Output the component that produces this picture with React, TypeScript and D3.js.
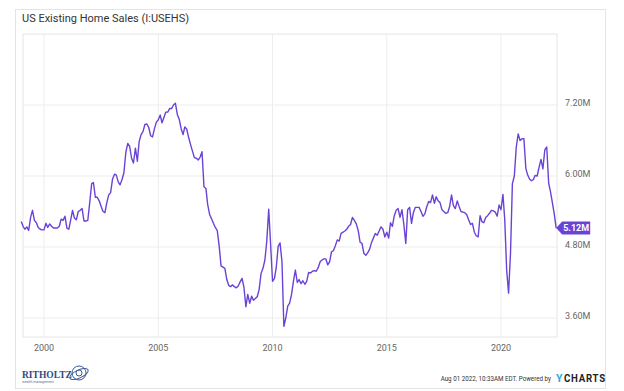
import React from "react";
import * as d3 from "d3";

const W = 624;
const H = 391;

const startYear = 1999;
// Monthly US existing home sales (millions, SAAR), Jan 1999 .. Jun 2022
const sales1999 = [5.23, 5.15, 5.10, 5.14, 5.08, 5.30, 5.42, 5.25, 5.21, 5.13, 5.10, 5.09];
const sales2000 = [5.09, 5.20, 5.13, 5.19, 5.15, 5.12, 5.12, 5.12, 5.15, 5.27, 5.25, 5.32];
const sales2001 = [5.12, 5.10, 5.25, 5.42, 5.29, 5.26, 5.40, 5.42, 5.45, 5.24, 5.24, 5.25];
const sales2002 = [5.55, 5.87, 5.89, 5.64, 5.64, 5.58, 5.49, 5.40, 5.38, 5.55, 5.68, 5.72];
const sales2003 = [5.95, 6.03, 6.02, 5.90, 5.85, 5.94, 6.05, 6.40, 6.55, 6.50, 6.30, 6.22];
const sales2004 = [6.47, 6.25, 6.58, 6.70, 6.75, 6.87, 6.88, 6.82, 6.68, 6.66, 6.80, 6.91];
const sales2005 = [6.95, 7.03, 6.90, 6.99, 7.08, 7.08, 7.14, 7.14, 7.20, 7.23, 7.04, 6.96];
const sales2006 = [6.80, 6.70, 6.83, 6.79, 6.65, 6.53, 6.42, 6.31, 6.30, 6.27, 6.32, 6.41];
const sales2007 = [5.82, 5.79, 5.52, 5.35, 5.28, 5.20, 5.13, 5.08, 4.82, 4.48, 4.46, 4.44];
const sales2008 = [4.25, 4.15, 4.13, 4.16, 4.13, 4.11, 4.14, 4.21, 4.27, 4.12, 3.79, 4.00];
const sales2009 = [3.85, 3.97, 3.90, 3.93, 3.96, 4.08, 4.35, 4.44, 4.58, 4.90, 5.44, 4.85];
const sales2010 = [4.22, 4.27, 4.45, 4.81, 4.87, 4.55, 3.46, 3.60, 3.80, 3.85, 4.00, 4.22];
const sales2011 = [4.41, 4.20, 4.25, 4.18, 4.23, 4.17, 4.22, 4.37, 4.36, 4.39, 4.40, 4.39];
const sales2012 = [4.45, 4.55, 4.58, 4.60, 4.60, 4.50, 4.55, 4.72, 4.74, 4.82, 4.92, 4.90];
const sales2013 = [5.03, 5.05, 5.07, 5.10, 5.15, 5.18, 5.30, 5.25, 5.19, 5.08, 4.88, 4.86];
const sales2014 = [4.69, 4.66, 4.70, 4.76, 4.87, 4.95, 5.03, 5.00, 5.07, 5.14, 5.10, 4.97];
const sales2015 = [5.05, 4.95, 5.21, 5.15, 5.33, 5.42, 5.45, 5.30, 5.43, 5.18, 4.86, 5.43];
const sales2016 = [5.47, 5.20, 5.38, 5.47, 5.47, 5.47, 5.40, 5.32, 5.36, 5.48, 5.57, 5.55];
const sales2017 = [5.68, 5.54, 5.65, 5.58, 5.55, 5.43, 5.40, 5.37, 5.38, 5.48, 5.68, 5.50];
const sales2018 = [5.45, 5.58, 5.49, 5.40, 5.39, 5.38, 5.35, 5.26, 5.18, 5.20, 5.05, 4.99];
const sales2019 = [4.97, 5.33, 5.23, 5.21, 5.30, 5.33, 5.37, 5.42, 5.41, 5.39, 5.32, 5.51];
const sales2020 = [5.43, 5.69, 5.26, 4.40, 4.02, 4.70, 5.87, 6.00, 6.49, 6.71, 6.60, 6.63];
const sales2021 = [6.63, 6.13, 6.02, 5.95, 5.92, 5.94, 6.01, 6.00, 6.15, 6.28, 6.12, 6.44];
const sales2022 = [6.49, 5.88, 5.74, 5.55, 5.36, 5.12];

const salesByYear = [
  sales1999, sales2000, sales2001, sales2002, sales2003, sales2004, sales2005, sales2006,
  sales2007, sales2008, sales2009, sales2010, sales2011, sales2012, sales2013, sales2014,
  sales2015, sales2016, sales2017, sales2018, sales2019, sales2020, sales2021, sales2022,
];

const yTicks = [3.6, 4.8, 6.0, 7.2];
const yTickLabels = ["3.60M", "4.80M", "6.00M", "7.20M"];
const xTickYears = [2000, 2005, 2010, 2015, 2020];

const title = "US Existing Home Sales (I:USEHS)";
const lastLabel = "5.12M";
const footer = "Aug 01 2022, 10:33AM EDT. Powered by";

type Pt = { date: Date; v: number };

export default function App() {
  const data: Pt[] = [];
  salesByYear.forEach((arr, yi) => {
    arr.forEach((v, mi) => {
      data.push({ date: new Date(Date.UTC(startYear + yi, mi, 1)), v });
    });
  });

  const plot = { left: 23, right: 557, top: 34, bottom: 337 };

  const x = d3
    .scaleUtc()
    .domain([new Date(Date.UTC(2000, 0, 1)), new Date(Date.UTC(2020, 0, 1))])
    .range([44, 501]);
  const y = d3.scaleLinear().domain([3.6, 7.2]).range([318, 105]);

  const line = d3
    .line<Pt>()
    .x((d) => x(d.date))
    .y((d) => y(d.v))
    .curve(d3.curveLinear);

  const last = data[data.length - 1];
  const lx = x(last.date);
  const ly = y(last.v);
  const purple = "#6a43d6";
  const font = "Roboto, 'Noto Sans', sans-serif";
  const sx = 0.78;

  return (
    <svg
      width={W}
      height={H}
      style={{ position: "absolute", left: 0, top: 0, background: "#fff" }}
      fontFamily={font}
    >
      <rect x={0} y={0} width={W} height={H} fill="#fff" />
      {/* card */}
      <rect x={15.5} y={9.5} width={590} height={379} fill="#fff" stroke="#e4e4e4" />
      <text x={22} y={22} fontSize={11} fill="#333">
        {title}
      </text>

      {/* grid */}
      {yTicks.map((t) => (
        <line key={"gy" + t} x1={plot.left} x2={plot.right} y1={y(t)} y2={y(t)} stroke="#ededed" />
      ))}
      {xTickYears.map((yr) => {
        const xx = x(new Date(Date.UTC(yr, 0, 1)));
        return <line key={"gx" + yr} x1={xx} x2={xx} y1={plot.top} y2={plot.bottom} stroke="#ededed" />;
      })}
      <rect
        x={plot.left}
        y={plot.top}
        width={plot.right - plot.left}
        height={plot.bottom - plot.top}
        fill="none"
        stroke="#e6e6e6"
      />

      {/* axis labels */}
      {yTicks.map((t, i) => (
        <text key={"ty" + t} x={565} y={y(t) + 1} fontSize={9} fill="#666">
          {yTickLabels[i]}
        </text>
      ))}
      {xTickYears.map((yr) => (
        <text
          key={"tx" + yr}
          x={x(new Date(Date.UTC(yr, 0, 1)))}
          y={351}
          fontSize={9}
          fill="#666"
          textAnchor="middle"
        >
          {yr}
        </text>
      ))}

      {/* series */}
      <path d={line(data) || ""} fill="none" stroke={purple} strokeWidth={1.4} strokeLinejoin="round" />

      {/* last value tag */}
      <path
        d={`M${lx},${ly} L${lx + 6},${ly - 6.5} L${lx + 34},${ly - 6.5} L${lx + 34},${ly + 6.5} L${lx + 6},${ly + 6.5} Z`}
        fill={purple}
      />
      <text x={lx + 20} y={ly + 3.3} fontSize={9} fontWeight="bold" fill="#fff" textAnchor="middle">
        {lastLabel}
      </text>

      {/* logo */}
      <text x={22} y={378} fontSize={9.5} fontWeight="bold" fill="#2c4a80" fontFamily="'Liberation Serif', serif">
        RITHOLTZ
      </text>
      <text x={22} y={382.5} fontSize={3.5} fill="#5a6f99">
        wealth management
      </text>
      <g fill="none" stroke="#3b5a96" strokeWidth={1}>
        <circle cx={79} cy={373} r={7} />
        <ellipse cx={79} cy={374} rx={10} ry={4} transform="rotate(-25 79 374)" />
        <circle cx={79} cy={373} r={3} />
      </g>

      {/* footer */}
      <g transform={`translate(551,381) scale(${sx},1)`}>
        <text x={0} y={0} fontSize={8} fill="#333" textAnchor="end">
          {footer}
        </text>
      </g>
      <text x={556} y={381.5} fontSize={10.5} fontWeight="bold" fill="#29a8e0">
        Y
      </text>
      <g transform={`translate(564,381.5) scale(0.92,1)`}>
        <text x={0} y={0} fontSize={10.5} fontWeight="bold" fill="#222" letterSpacing={0.8}>
          CHARTS
        </text>
      </g>
    </svg>
  );
}
